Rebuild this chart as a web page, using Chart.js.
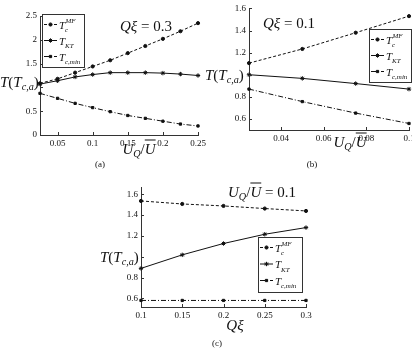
<!DOCTYPE html>
<html>
<head>
<meta charset="utf-8">
<script src="https://cdn.jsdelivr.net/npm/chart.js@4.4.1/dist/chart.umd.min.js"></script>
<style>
  body { margin: 0; width: 412px; height: 351px; overflow: hidden; background: #fff; position: relative; }
  canvas { position: absolute; }
  .m { position: absolute; white-space: nowrap; font-family: "Liberation Serif", serif; color: #111; line-height: 1; }
  .m i { font-style: italic; }
  .m sub { font-size: 0.68em; vertical-align: -0.35em; font-style: italic; line-height: 0; }
  .ov { text-decoration: overline; }
  .c { transform: translate(-50%, -50%); }
  .v { transform: translateY(-50%); }
</style>
</head>
<body>
<canvas id="chartA" width="215" height="150" style="left:0;top:0"></canvas>
<canvas id="chartB" width="225" height="145" style="left:200px;top:0"></canvas>
<canvas id="chartC" width="230" height="152" style="left:100px;top:170px"></canvas>

<!-- axis titles and notes -->
<div class="m v" style="left:0;top:82px;font-size:15px"><i>T</i>(<i>T</i><sub>c,a</sub>)</div>
<div class="m v" style="left:205px;top:75px;font-size:15px"><i>T</i>(<i>T</i><sub>c,a</sub>)</div>
<div class="m v" style="left:100px;top:257px;font-size:15px"><i>T</i>(<i>T</i><sub>c,a</sub>)</div>

<div class="m c" style="left:139px;top:149px;font-size:15px"><i>U</i><sub>Q</sub>/<i class="ov">U</i></div>
<div class="m c" style="left:350px;top:142px;font-size:15px"><i>U</i><sub>Q</sub>/<i class="ov">U</i></div>
<div class="m c" style="left:235px;top:325px;font-size:15px"><i>Qξ</i></div>

<div class="m v" style="left:120px;top:26px;font-size:15px"><i>Qξ</i> = 0.3</div>
<div class="m v" style="left:263px;top:23px;font-size:15px"><i>Qξ</i> = 0.1</div>
<div class="m v" style="left:228px;top:192px;font-size:15px"><i>U</i><sub>Q</sub>/<i class="ov">U</i> = 0.1</div>

<div class="m c" style="left:100px;top:164px;font-size:9px">(a)</div>
<div class="m c" style="left:312px;top:164px;font-size:9px">(b)</div>
<div class="m c" style="left:217px;top:343px;font-size:9px">(c)</div>

<script>
// (a) Q xi = 0.3, x = U_Q / U
const xA = [0.025, 0.05, 0.075, 0.1, 0.125, 0.15, 0.175, 0.2, 0.225, 0.25];
const mfA = [1.085, 1.18, 1.31, 1.44, 1.57, 1.72, 1.87, 2.02, 2.18, 2.35];
const ktA = [1.07, 1.14, 1.22, 1.27, 1.31, 1.31, 1.31, 1.30, 1.28, 1.25];
const minA = [0.875, 0.77, 0.665, 0.575, 0.49, 0.41, 0.35, 0.29, 0.23, 0.19];
const xTicksA = [0.05, 0.1, 0.15, 0.2, 0.25];
const yTicksA = [0, 0.5, 1, 1.5, 2, 2.5];

// (b) Q xi = 0.1, x = U_Q / U
const xB = [0.025, 0.05, 0.075, 0.1];
const mfB = [1.105, 1.233, 1.38, 1.53];
const ktB = [1.0, 0.967, 0.92, 0.87];
const minB = [0.87, 0.757, 0.653, 0.559];
const xTicksB = [0.04, 0.06, 0.08, 0.1];
const yTicksB = [0.6, 0.8, 1, 1.2, 1.4, 1.6];

// (c) U_Q / U = 0.1, x = Q xi
const xC = [0.1, 0.15, 0.2, 0.25, 0.3];
const mfC = [1.536, 1.507, 1.488, 1.463, 1.44];
const ktC = [0.888, 1.018, 1.127, 1.216, 1.28];
const minC = [0.58, 0.58, 0.58, 0.58, 0.58];
const xTicksC = [0.1, 0.15, 0.2, 0.25, 0.3];
const yTicksC = [0.6, 0.8, 1, 1.2, 1.4, 1.6];

const legendNames = [
  { sub: "c", sup: "MF" },
  { sub: "KT", sup: "" },
  { sub: "c,min", sup: "" },
];

const ink = "#111";
const tickFont = { family: "Liberation Serif", size: 9 };

// matlab style ticks pointing into the plot
const inwardTicks = {
  id: "inwardTicks",
  afterDatasetsDraw(chart) {
    const { ctx, chartArea: a, scales } = chart;
    ctx.save();
    ctx.strokeStyle = "#333";
    ctx.lineWidth = 1;
    ctx.beginPath();
    scales.x.ticks.forEach((t) => {
      const px = Math.round(scales.x.getPixelForValue(t.value)) + 0.5;
      ctx.moveTo(px, a.bottom);
      ctx.lineTo(px, a.bottom - 3);
    });
    scales.y.ticks.forEach((t) => {
      const py = Math.round(scales.y.getPixelForValue(t.value)) + 0.5;
      ctx.moveTo(a.left, py);
      ctx.lineTo(a.left + 3, py);
    });
    ctx.stroke();
    ctx.restore();
  },
};

// boxed legend with T sub/superscripts
const texLegend = {
  id: "texLegend",
  afterDraw(chart, args, opts) {
    const { ctx } = chart;
    const { x, y, w, h, gap } = opts;
    ctx.save();
    ctx.fillStyle = "#fff";
    ctx.fillRect(x, y, w, h);
    ctx.strokeStyle = "#333";
    ctx.lineWidth = 1;
    ctx.strokeRect(x + 0.5, y + 0.5, w, h);
    chart.data.datasets.forEach((ds, i) => {
      const ry = y + 10.5 + i * gap;
      ctx.strokeStyle = ink;
      ctx.lineWidth = 1;
      ctx.setLineDash(ds.borderDash || []);
      ctx.beginPath();
      ctx.moveTo(x + 2, ry);
      ctx.lineTo(x + 15, ry);
      ctx.stroke();
      ctx.setLineDash([]);
      ctx.fillStyle = ink;
      Chart.helpers.drawPoint(ctx, { pointStyle: ds.pointStyle, radius: ds.pointRadius, borderWidth: 1, rotation: 0 }, x + 8.5, ry);
      const n = legendNames[i];
      ctx.font = 'italic 11px "Liberation Serif"';
      ctx.fillText("T", x + 17, ry + 4);
      ctx.font = 'italic 7px "Liberation Serif"';
      if (n.sup) ctx.fillText(n.sup, x + 23.5, ry - 1.5);
      ctx.fillText(n.sub, x + 23, ry + 7.5);
    });
    ctx.restore();
  },
};

function series(xs, ys) {
  return xs.map((x, i) => ({ x: x, y: ys[i] }));
}

function makePanel(id, xs, mf, kt, mn, xTicks, yTicks, cfg) {
  new Chart(document.getElementById(id), {
    type: "line",
    data: {
      datasets: [
        { label: "Tc MF", data: series(xs, mf), borderColor: ink, backgroundColor: ink, borderWidth: 1, borderDash: [3, 2], pointStyle: "circle", pointRadius: 1.6, clip: false },
        { label: "T KT", data: series(xs, kt), borderColor: ink, backgroundColor: ink, borderWidth: 1, pointStyle: "star", pointRadius: 2.2, clip: false },
        { label: "Tc,min", data: series(xs, mn), borderColor: ink, backgroundColor: ink, borderWidth: 1, borderDash: [5, 2, 1, 2], pointStyle: "rect", pointRadius: 1.6, clip: false },
      ],
    },
    options: {
      responsive: false,
      animation: false,
      devicePixelRatio: 1,
      layout: { padding: { left: 0, top: cfg.top, right: cfg.right, bottom: 0 } },
      plugins: {
        legend: { display: false },
        tooltip: { enabled: false },
        texLegend: cfg.legend,
      },
      scales: {
        x: {
          type: "linear",
          min: cfg.xmin,
          max: cfg.xmax,
          afterBuildTicks: (s) => { s.ticks = xTicks.map((v) => ({ value: v })); },
          afterFit: (s) => { s.height = cfg.xh; },
          grid: { display: false, drawTicks: false },
          border: { color: "#333" },
          ticks: { font: tickFont, color: ink, padding: 3, maxRotation: 0, autoSkip: false, callback: (v) => String(v) },
        },
        y: {
          min: cfg.ymin,
          max: cfg.ymax,
          afterBuildTicks: (s) => { s.ticks = yTicks.map((v) => ({ value: v })); },
          afterFit: (s) => { s.width = cfg.yw; },
          grid: { display: false, drawTicks: false },
          border: { color: "#333" },
          // the "1" label sits under the T(Tc,a) axis title
          ticks: { font: tickFont, color: ink, padding: 3, autoSkip: false, callback: (v) => (v === 1 ? "" : String(v)) },
        },
      },
    },
    plugins: [inwardTicks, texLegend],
  });
}

makePanel("chartA", xA, mfA, ktA, minA, xTicksA, yTicksA, {
  xmin: 0.025, xmax: 0.25, ymin: 0, ymax: 2.5,
  top: 16, right: 17, yw: 40, xh: 15,
  legend: { x: 42, y: 14, w: 42, h: 53, gap: 16 },
});

makePanel("chartB", xB, mfB, ktB, minB, xTicksB, yTicksB, {
  xmin: 0.025, xmax: 0.1, ymin: 0.5, ymax: 1.6,
  top: 6, right: 16, yw: 49, xh: 15,
  legend: { x: 169, y: 29, w: 42, h: 53, gap: 16 },
});

makePanel("chartC", xC, mfC, ktC, minC, xTicksC, yTicksC, {
  xmin: 0.1, xmax: 0.3, ymin: 0.517, ymax: 1.67,
  top: 17, right: 24, yw: 41, xh: 15,
  legend: { x: 158, y: 67, w: 44, h: 55, gap: 16.5 },
});
</script>
</body>
</html>
